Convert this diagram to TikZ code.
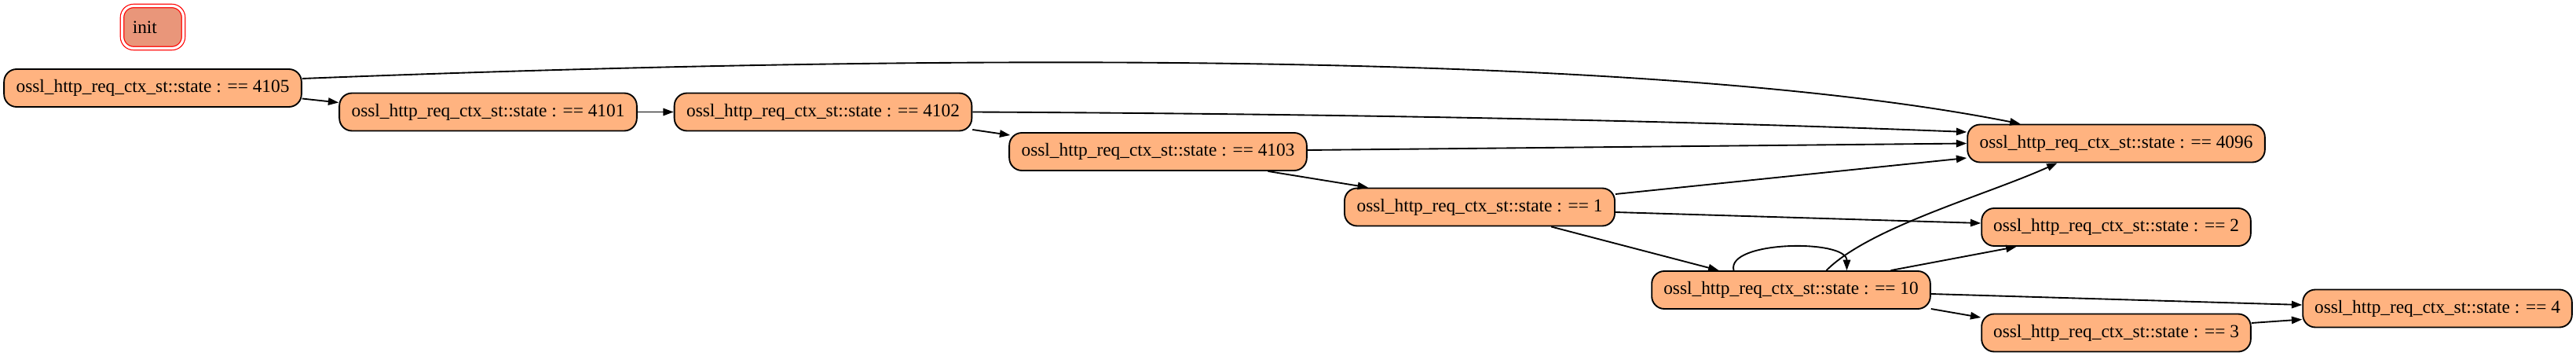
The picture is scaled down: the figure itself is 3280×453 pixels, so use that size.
\documentclass[tikz,border=0pt]{standalone}
\usepackage{fontspec}
\setmainfont{Liberation Serif}
\usetikzlibrary{positioning,arrows.meta,calc}

\definecolor{statefill}{RGB}{255,179,128}
\definecolor{initfill}{RGB}{233,150,122}

\begin{document}
\begin{tikzpicture}[
  x=0.75pt, y=-0.75pt,
  >={Triangle[length=10pt,width=7pt]},
  state/.style={
    draw=black, line width=1.4pt, rounded corners=12pt, fill=statefill,
    minimum width=#1, minimum height=36pt, inner sep=0pt,
    font=\fontsize{17.5}{20}\selectfont
  },
  initbox/.style={
    draw=red, line width=0.9pt, double=white, double distance=2.4pt,
    rounded corners=11pt, fill=initfill,
    minimum height=40.5pt, text width=38.5pt, inner xsep=10pt, align=left,
    font=\fontsize{17.5}{20}\selectfont
  },
  arr/.style={->, line width=1.4pt}
]
\useasboundingbox (0,0) rectangle (3280,453);

% --- Etats
\node[initbox]      (init) at (194.5,34.5)  {init};
\node[state=284pt]  (s4105) at (194.5,112)  {ossl\_http\_req\_ctx\_st::state : == 4105};
\node[state=284pt]  (s4101) at (621.5,142.5) {ossl\_http\_req\_ctx\_st::state : == 4101};
\node[state=284pt]  (s4102) at (1048,142.5) {ossl\_http\_req\_ctx\_st::state : == 4102};
\node[state=284pt]  (s4103) at (1474.5,193) {ossl\_http\_req\_ctx\_st::state : == 4103};
\node[state=258pt]  (s1)    at (1884,263.5) {ossl\_http\_req\_ctx\_st::state : == 1};
\node[state=284pt]  (s4096) at (2694.5,182.5) {ossl\_http\_req\_ctx\_st::state : == 4096};
\node[state=257pt]  (s2)    at (2694.5,289) {ossl\_http\_req\_ctx\_st::state : == 2};
\node[state=266pt]  (s10)   at (2280.5,369) {ossl\_http\_req\_ctx\_st::state : == 10};
\node[state=257pt]  (s3)    at (2694.5,423.5) {ossl\_http\_req\_ctx\_st::state : == 3};
\node[state=257pt]  (s4)    at (3103.5,392.5) {ossl\_http\_req\_ctx\_st::state : == 4};

% --- Chaine principale
\draw[arr] ($(s4105.east)+(0,13.5)$) -- ($(s4101.west)+(0,-12)$);
\draw[arr] (s4101.east) -- (s4102.west);
\draw[arr] ($(s4102.east)+(0,22.5)$) -- ($(s4103.west)+(2,-21)$);
\draw[arr] ($(s4103.south)+(140,0)$) -- ($(s1.north)+(-142,0)$);
\draw[arr] ($(s1.south)+(91,0)$) -- ($(s10.north)+(-92,0)$);

% --- Vers 4096
\draw[arr] ($(s4105.east)+(0,-12)$)
  .. controls +(816,-32) and +(-473,-93.5) .. ($(s4096.north)+(-122,0)$);
\draw[arr] (s4102.east)
  .. controls +(600,3) and +(-250,-10) .. ($(s4096.west)+(0,-14.5)$);
\draw[arr] ($(s4103.east)+(0,-2)$) -- (s4096.west);
\draw[arr] ($(s1.east)+(0,-16.5)$) -- ($(s4096.west)+(0,18.5)$);
\draw[arr] ($(s10.north)+(45,0)$)
  .. controls +(55,-55) and +(-89.5,40.5) .. ($(s4096.south)+(-75,0)$);

% --- Depuis 1 et 10
\draw[arr] ($(s1.east)+(0,6.5)$) -- ($(s2.west)+(0,-5)$);
\draw[arr] ($(s10.north)+(-73,0)$)
  .. controls +(-10,-38) and +(0,-40) .. ($(s10.north)+(71,0)$);
\draw[arr] ($(s10.north)+(127,0)$) -- ($(s2.south)+(-127,0)$);
\draw[arr] ($(s10.east)+(0,5)$) -- ($(s4.west)+(0,-4.5)$);
\draw[arr] ($(s10.east)+(0,24)$) -- ($(s3.west)+(0,-19.5)$);
\draw[arr] ($(s3.east)+(0,-12.5)$) -- ($(s4.west)+(0,14)$);

\end{tikzpicture}
\end{document}
